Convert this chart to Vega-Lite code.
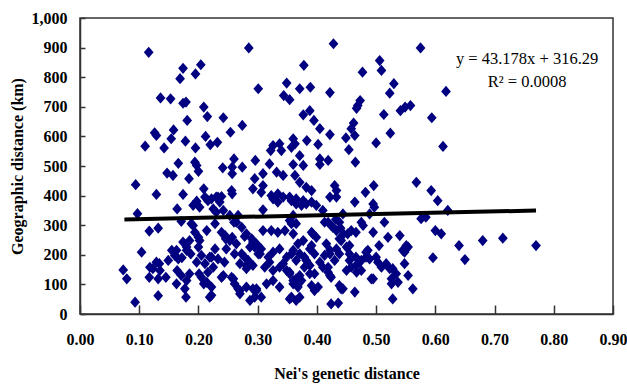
{
  "$schema": "https://vega.github.io/schema/vega-lite/v6.json",
  "width": 533,
  "height": 296,
  "autosize": {"type": "none"},
  "padding": {"left": 80, "top": 18, "right": 14, "bottom": 73},
  "background": "white",
  "config": {
    "view": {"stroke": "#333333", "strokeWidth": 1.5},
    "font": "Liberation Serif"
  },
  "datasets": {
    "pts": [
      {"nei":0.116,"geo":884},{"nei":0.285,"geo":899},{"nei":0.174,"geo":830},{"nei":0.204,"geo":842},{"nei":0.169,"geo":795},{"nei":0.195,"geo":811},{"nei":0.301,"geo":761},{"nei":0.136,"geo":730},{"nei":0.153,"geo":727},{"nei":0.174,"geo":712},{"nei":0.179,"geo":716},{"nei":0.209,"geo":699},{"nei":0.215,"geo":667},{"nei":0.181,"geo":654},{"nei":0.242,"geo":663},{"nei":0.126,"geo":612},{"nei":0.129,"geo":603},{"nei":0.158,"geo":622},{"nei":0.154,"geo":592},{"nei":0.178,"geo":584},{"nei":0.212,"geo":600},{"nei":0.274,"geo":637},{"nei":0.254,"geo":614},{"nei":0.220,"geo":572},{"nei":0.232,"geo":580},{"nei":0.110,"geo":567},{"nei":0.142,"geo":561},{"nei":0.195,"geo":561},{"nei":0.166,"geo":509},{"nei":0.194,"geo":513},{"nei":0.197,"geo":502},{"nei":0.241,"geo":494},{"nei":0.260,"geo":524},{"nei":0.257,"geo":496},{"nei":0.274,"geo":496},{"nei":0.296,"geo":519},
      {"nei":0.428,"geo":913},{"nei":0.575,"geo":899},{"nei":0.378,"geo":840},{"nei":0.506,"geo":856},{"nei":0.509,"geo":823},{"nei":0.477,"geo":817},{"nei":0.349,"geo":780},{"nei":0.371,"geo":761},{"nei":0.389,"geo":766},{"nei":0.344,"geo":738},{"nei":0.354,"geo":724},{"nei":0.422,"geo":748},{"nei":0.530,"geo":778},{"nei":0.523,"geo":746},{"nei":0.473,"geo":721},{"nei":0.469,"geo":704},{"nei":0.467,"geo":695},{"nei":0.541,"geo":687},{"nei":0.549,"geo":699},{"nei":0.558,"geo":704},{"nei":0.594,"geo":663},{"nei":0.377,"geo":673},{"nei":0.388,"geo":687},{"nei":0.395,"geo":654},{"nei":0.405,"geo":626},{"nei":0.422,"geo":606},{"nei":0.513,"geo":674},{"nei":0.462,"geo":645},{"nei":0.458,"geo":626},{"nei":0.464,"geo":603},{"nei":0.449,"geo":595},{"nei":0.524,"geo":611},{"nei":0.500,"geo":578},{"nei":0.454,"geo":555},{"nei":0.465,"geo":513},{"nei":0.326,"geo":569},{"nei":0.322,"geo":552},{"nei":0.337,"geo":575},{"nei":0.340,"geo":552},{"nei":0.360,"geo":592},{"nei":0.363,"geo":575},{"nei":0.357,"geo":563},{"nei":0.383,"geo":586},{"nei":0.402,"geo":573},{"nei":0.371,"geo":535},{"nei":0.405,"geo":524},{"nei":0.419,"geo":519},{"nei":0.320,"geo":507},{"nei":0.360,"geo":505},{"nei":0.377,"geo":502},
      {"nei":0.618,"geo":752},{"nei":0.613,"geo":566},
      {"nei":0.200,"geo":482},{"nei":0.147,"geo":476},{"nei":0.157,"geo":468},{"nei":0.184,"geo":457},{"nei":0.257,"geo":474},{"nei":0.295,"geo":457},{"nei":0.094,"geo":437},{"nei":0.129,"geo":404},{"nei":0.174,"geo":404},{"nei":0.209,"geo":423},{"nei":0.197,"geo":381},{"nei":0.191,"geo":367},{"nei":0.216,"geo":383},{"nei":0.230,"geo":395},{"nei":0.239,"geo":397},{"nei":0.256,"geo":417},{"nei":0.257,"geo":406},{"nei":0.292,"geo":423},{"nei":0.097,"geo":339},{"nei":0.164,"geo":355},{"nei":0.171,"geo":313},{"nei":0.225,"geo":355},{"nei":0.230,"geo":344},{"nei":0.242,"geo":350},{"nei":0.253,"geo":333},{"nei":0.267,"geo":333},{"nei":0.260,"geo":310},{"nei":0.117,"geo":280},{"nei":0.132,"geo":290},{"nei":0.191,"geo":299},{"nei":0.194,"geo":276},{"nei":0.202,"geo":248},{"nei":0.214,"geo":282},{"nei":0.239,"geo":276},{"nei":0.246,"geo":254},{"nei":0.257,"geo":259},{"nei":0.264,"geo":237},{"nei":0.278,"geo":262},{"nei":0.292,"geo":243},{"nei":0.104,"geo":209},{"nei":0.155,"geo":215},{"nei":0.163,"geo":215},{"nei":0.180,"geo":215},{"nei":0.187,"geo":203},{"nei":0.200,"geo":226},{"nei":0.205,"geo":198},{"nei":0.222,"geo":192},{"nei":0.228,"geo":220},{"nei":0.233,"geo":186},{"nei":0.247,"geo":220},{"nei":0.261,"geo":203},{"nei":0.273,"geo":203},{"nei":0.287,"geo":226},{"nei":0.301,"geo":203},{"nei":0.073,"geo":149},{"nei":0.079,"geo":119},{"nei":0.117,"geo":124},{"nei":0.123,"geo":153},{"nei":0.134,"geo":170},{"nei":0.132,"geo":119},{"nei":0.145,"geo":124},{"nei":0.149,"geo":181},{"nei":0.164,"geo":147},{"nei":0.163,"geo":102},{"nei":0.177,"geo":85},{"nei":0.185,"geo":136},{"nei":0.201,"geo":136},{"nei":0.197,"geo":175},{"nei":0.209,"geo":102},{"nei":0.216,"geo":141},{"nei":0.225,"geo":158},{"nei":0.222,"geo":63},{"nei":0.242,"geo":130},{"nei":0.259,"geo":119},{"nei":0.267,"geo":85},{"nei":0.270,"geo":68},{"nei":0.281,"geo":91},{"nei":0.292,"geo":85},{"nei":0.093,"geo":40},{"nei":0.132,"geo":62},{"nei":0.179,"geo":57},{"nei":0.287,"geo":46},{"nei":0.281,"geo":164},{"nei":0.172,"geo":190},{"nei":0.244,"geo":175},{"nei":0.270,"geo":170},
      {"nei":0.405,"geo":505},{"nei":0.309,"geo":474},{"nei":0.309,"geo":434},{"nei":0.332,"geo":479},{"nei":0.343,"geo":468},{"nei":0.363,"geo":468},{"nei":0.371,"geo":445},{"nei":0.382,"geo":428},{"nei":0.391,"geo":417},{"nei":0.323,"geo":400},{"nei":0.334,"geo":406},{"nei":0.343,"geo":395},{"nei":0.357,"geo":383},{"nei":0.377,"geo":383},{"nei":0.391,"geo":378},{"nei":0.399,"geo":367},{"nei":0.374,"geo":367},{"nei":0.422,"geo":395},{"nei":0.430,"geo":434},{"nei":0.433,"geo":417},{"nei":0.464,"geo":378},{"nei":0.482,"geo":411},{"nei":0.496,"geo":434},{"nei":0.495,"geo":372},{"nei":0.497,"geo":361},{"nei":0.568,"geo":445},{"nei":0.593,"geo":417},{"nei":0.604,"geo":383},{"nei":0.309,"geo":352},{"nei":0.360,"geo":333},{"nei":0.410,"geo":350},{"nei":0.444,"geo":338},{"nei":0.489,"geo":338},{"nei":0.576,"geo":322},{"nei":0.584,"geo":327},{"nei":0.600,"geo":282},{"nei":0.309,"geo":282},{"nei":0.323,"geo":282},{"nei":0.334,"geo":276},{"nei":0.346,"geo":282},{"nei":0.357,"geo":305},{"nei":0.391,"geo":276},{"nei":0.399,"geo":259},{"nei":0.419,"geo":310},{"nei":0.427,"geo":293},{"nei":0.438,"geo":254},{"nei":0.452,"geo":271},{"nei":0.466,"geo":276},{"nei":0.478,"geo":299},{"nei":0.495,"geo":276},{"nei":0.514,"geo":310},{"nei":0.520,"geo":259},{"nei":0.540,"geo":265},{"nei":0.545,"geo":215},{"nei":0.554,"geo":226},{"nei":0.596,"geo":190},{"nei":0.278,"geo":192},{"nei":0.295,"geo":226},{"nei":0.304,"geo":203},{"nei":0.292,"geo":164},{"nei":0.281,"geo":153},{"nei":0.318,"geo":192},{"nei":0.326,"geo":209},{"nei":0.337,"geo":220},{"nei":0.349,"geo":192},{"nei":0.360,"geo":215},{"nei":0.371,"geo":203},{"nei":0.382,"geo":181},{"nei":0.391,"geo":231},{"nei":0.396,"geo":203},{"nei":0.416,"geo":237},{"nei":0.422,"geo":215},{"nei":0.430,"geo":181},{"nei":0.438,"geo":203},{"nei":0.455,"geo":231},{"nei":0.466,"geo":192},{"nei":0.475,"geo":181},{"nei":0.486,"geo":215},{"nei":0.500,"geo":192},{"nei":0.505,"geo":231},{"nei":0.517,"geo":170},{"nei":0.528,"geo":153},{"nei":0.534,"geo":136},{"nei":0.548,"geo":170},{"nei":0.554,"geo":130},{"nei":0.562,"geo":85},{"nei":0.528,"geo":51},{"nei":0.537,"geo":107},{"nei":0.526,"geo":102},{"nei":0.298,"geo":85},{"nei":0.306,"geo":57},{"nei":0.295,"geo":57},{"nei":0.315,"geo":102},{"nei":0.326,"geo":113},{"nei":0.337,"geo":91},{"nei":0.354,"geo":51},{"nei":0.371,"geo":57},{"nei":0.360,"geo":102},{"nei":0.371,"geo":130},{"nei":0.391,"geo":96},{"nei":0.402,"geo":91},{"nei":0.396,"geo":136},{"nei":0.349,"geo":147},{"nei":0.337,"geo":158},{"nei":0.326,"geo":147},{"nei":0.312,"geo":158},{"nei":0.379,"geo":158},{"nei":0.419,"geo":158},{"nei":0.422,"geo":130},{"nei":0.438,"geo":96},{"nei":0.444,"geo":85},{"nei":0.464,"geo":74},{"nei":0.424,"geo":34},{"nei":0.436,"geo":37},{"nei":0.466,"geo":164},{"nei":0.475,"geo":147},{"nei":0.483,"geo":192},{"nei":0.495,"geo":119},{"nei":0.450,"geo":147},{"nei":0.455,"geo":181},{"nei":0.405,"geo":175},{"nei":0.413,"geo":198},
      {"nei":0.432,"geo":320},{"nei":0.440,"geo":290},{"nei":0.445,"geo":270},
      {"nei":0.621,"geo":350},{"nei":0.610,"geo":271},{"nei":0.640,"geo":231},{"nei":0.680,"geo":248},{"nei":0.714,"geo":256},{"nei":0.770,"geo":231},{"nei":0.650,"geo":184},
      {"nei":0.211,"geo":395},{"nei":0.222,"geo":389},{"nei":0.233,"geo":395},{"nei":0.236,"geo":378},{"nei":0.202,"geo":361},{"nei":0.326,"geo":389},{"nei":0.334,"geo":378},{"nei":0.354,"geo":395},{"nei":0.365,"geo":372},{"nei":0.306,"geo":411},{"nei":0.188,"geo":305},{"nei":0.200,"geo":259},{"nei":0.228,"geo":305},{"nei":0.245,"geo":265},{"nei":0.253,"geo":248},{"nei":0.264,"geo":310},{"nei":0.273,"geo":293},{"nei":0.281,"geo":271},{"nei":0.290,"geo":254},{"nei":0.298,"geo":237},{"nei":0.306,"geo":220},{"nei":0.354,"geo":316},{"nei":0.365,"geo":305},{"nei":0.174,"geo":243},{"nei":0.185,"geo":248},{"nei":0.180,"geo":226},{"nei":0.160,"geo":198},{"nei":0.166,"geo":186},{"nei":0.118,"geo":158},{"nei":0.129,"geo":175},{"nei":0.135,"geo":147},{"nei":0.171,"geo":130},{"nei":0.180,"geo":113},{"nei":0.211,"geo":170},{"nei":0.219,"geo":192},{"nei":0.205,"geo":124},{"nei":0.214,"geo":107},{"nei":0.222,"geo":91},{"nei":0.219,"geo":57},{"nei":0.239,"geo":124},{"nei":0.256,"geo":124},{"nei":0.261,"geo":102},{"nei":0.270,"geo":79},{"nei":0.284,"geo":181},{"nei":0.298,"geo":79},{"nei":0.320,"geo":175},{"nei":0.343,"geo":170},{"nei":0.354,"geo":141},{"nei":0.365,"geo":46},{"nei":0.360,"geo":113},{"nei":0.368,"geo":91},
      {"nei":0.365,"geo":389},{"nei":0.382,"geo":372},{"nei":0.433,"geo":395},{"nei":0.413,"geo":310},{"nei":0.424,"geo":299},{"nei":0.433,"geo":282},{"nei":0.438,"geo":310},{"nei":0.458,"geo":282},{"nei":0.475,"geo":310},{"nei":0.551,"geo":231},{"nei":0.548,"geo":209},{"nei":0.360,"geo":271},{"nei":0.368,"geo":237},{"nei":0.377,"geo":248},{"nei":0.388,"geo":220},{"nei":0.393,"geo":271},{"nei":0.357,"geo":203},{"nei":0.365,"geo":181},{"nei":0.379,"geo":192},{"nei":0.388,"geo":164},{"nei":0.422,"geo":203},{"nei":0.433,"geo":220},{"nei":0.441,"geo":248},{"nei":0.450,"geo":226},{"nei":0.455,"geo":203},{"nei":0.472,"geo":175},{"nei":0.483,"geo":209},{"nei":0.489,"geo":186},{"nei":0.503,"geo":175},{"nei":0.509,"geo":158},{"nei":0.410,"geo":158},{"nei":0.419,"geo":141},{"nei":0.424,"geo":124},{"nei":0.458,"geo":158},{"nei":0.467,"geo":141},{"nei":0.492,"geo":119},{"nei":0.523,"geo":153},{"nei":0.526,"geo":119},{"nei":0.441,"geo":85},{"nei":0.354,"geo":136},{"nei":0.365,"geo":119},{"nei":0.374,"geo":113},{"nei":0.388,"geo":136},{"nei":0.396,"geo":79},{"nei":0.357,"geo":57}
    ],
    "fit": [
      {"nei": 0.075, "geo": 319.5},
      {"nei": 0.77, "geo": 349.5}
    ],
    "eq": [
      {"line": "y = 43.178x + 316.29", "nei": 0.755, "geo": 863},
      {"line": "R² = 0.0008", "nei": 0.755, "geo": 783}
    ]
  },
  "encoding": {
    "x": {
      "field": "nei", "type": "quantitative",
      "scale": {"domain": [0, 0.9], "nice": false, "zero": false},
      "axis": {
        "values": [0, 0.1, 0.2, 0.3, 0.4, 0.5, 0.6, 0.7, 0.8, 0.9],
        "format": ".2f", "grid": false, "labelOverlap": false,
        "title": "Nei's genetic distance",
        "labelFont": "Liberation Serif", "labelFontSize": 16, "labelFontWeight": "bold", "labelColor": "#000000",
        "titleFont": "Liberation Serif", "titleFontSize": 16, "titleFontWeight": "bold", "titleColor": "#000000",
        "titleBaseline": "middle", "titleY": 59,
        "domainColor": "#333333", "domainWidth": 1.5, "tickColor": "#333333", "tickWidth": 1.5, "tickSize": -9,
        "labelPadding": 26, "labelFlush": false
      }
    },
    "y": {
      "field": "geo", "type": "quantitative",
      "scale": {"domain": [0, 1000], "nice": false},
      "axis": {
        "values": [0, 100, 200, 300, 400, 500, 600, 700, 800, 900, 1000],
        "format": ",d", "grid": false, "labelOverlap": false,
        "title": "Geographic distance (km)",
        "labelFont": "Liberation Serif", "labelFontSize": 16, "labelFontWeight": "bold", "labelColor": "#000000",
        "titleFont": "Liberation Serif", "titleFontSize": 16, "titleFontWeight": "bold", "titleColor": "#000000",
        "titleAngle": -90, "titleBaseline": "middle", "titleAlign": "center", "titleX": -63, "titleY": 148,
        "domainColor": "#333333", "domainWidth": 1.5, "tickColor": "#333333", "tickWidth": 1.5, "tickSize": -5,
        "labelPadding": 18, "labelFlush": false
      }
    }
  },
  "layer": [
    {
      "data": {"name": "pts"},
      "mark": {"type": "point", "shape": "M-1,0L0,-1.15L1,0L0,1.15Z", "filled": true, "size": 95, "color": "#000080", "opacity": 1}
    },
    {
      "data": {"name": "fit"},
      "mark": {"type": "line", "color": "#000000", "strokeWidth": 4}
    },
    {
      "data": {"name": "eq"},
      "mark": {"type": "text", "font": "Liberation Serif", "fontSize": 16.5, "color": "#000000", "align": "center", "baseline": "middle"},
      "encoding": {
        "text": {"field": "line"}
      }
    }
  ]
}
